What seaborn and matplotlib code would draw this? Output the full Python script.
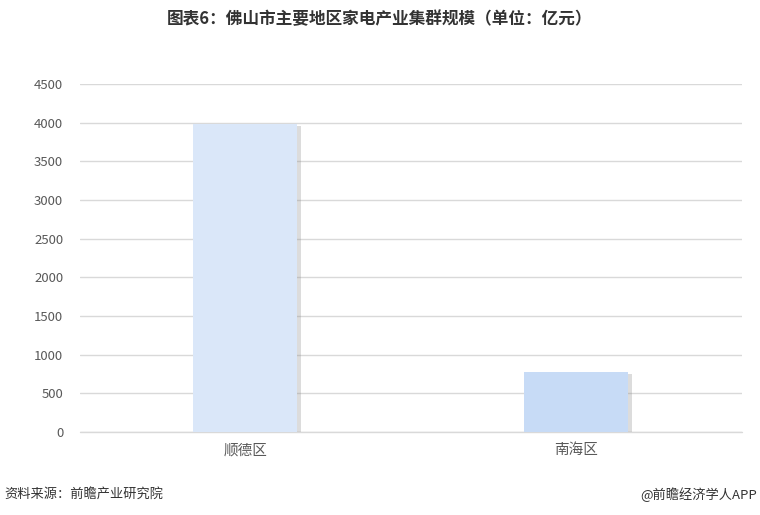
import matplotlib
matplotlib.use("Agg")
import matplotlib.pyplot as plt
import matplotlib.patheffects as pe
import seaborn as sns
import pandas as pd

# 数据
districts = ["顺德区", "南海区"]
scale = [3980, 780]
bar_colors = ["#DAE7F9", "#C7DBF6"]

sns.set_theme(style="white")
plt.rcParams["font.family"] = ["Noto Sans CJK SC", "DejaVu Sans"]

df = pd.DataFrame({"地区": districts, "规模": scale})

fig = plt.figure(figsize=(7.6, 5.15), dpi=100)
ax = fig.add_axes([0.105, 0.161, 0.871, 0.676])

sns.barplot(data=df, x="地区", y="规模", hue="地区", palette=bar_colors,
            width=0.315, saturation=1, linewidth=0, legend=False, ax=ax, zorder=3)

# 柱子右侧的阴影
for p in ax.patches:
    p.set_path_effects([pe.SimplePatchShadow(offset=(2.5, -1.5), shadow_rgbFace="#8c8c8c", alpha=0.3),
                        pe.Normal()])

ax.set_ylim(0, 4500)
ax.set_yticks(range(0, 4501, 500))
ax.yaxis.grid(True, color="#D9D9D9", linewidth=1)
ax.axhline(0, color="#D9D9D9", linewidth=1, clip_on=False, zorder=2)
ax.set_axisbelow(True)
for s in ax.spines.values():
    s.set_visible(False)
ax.set_xlabel("")
ax.set_ylabel("")
ax.tick_params(axis="y", colors="#595959", labelsize=9.5, length=0, pad=12)
ax.tick_params(axis="x", colors="#595959", labelsize=10.5, length=0, pad=8)

fig.text(0.5, 0.962, "图表6：佛山市主要地区家电产业集群规模（单位：亿元）",
         ha="center", va="center", fontsize=12, fontweight="bold", color="#333333")
fig.text(0.006, 0.04, "资料来源：前瞻产业研究院", ha="left", va="center",
         fontsize=9.5, color="#333333")
fig.text(0.996, 0.04, "@前瞻经济学人APP", ha="right", va="center",
         fontsize=9.5, color="#333333")

fig.savefig("out.png", dpi=100, facecolor="white")
